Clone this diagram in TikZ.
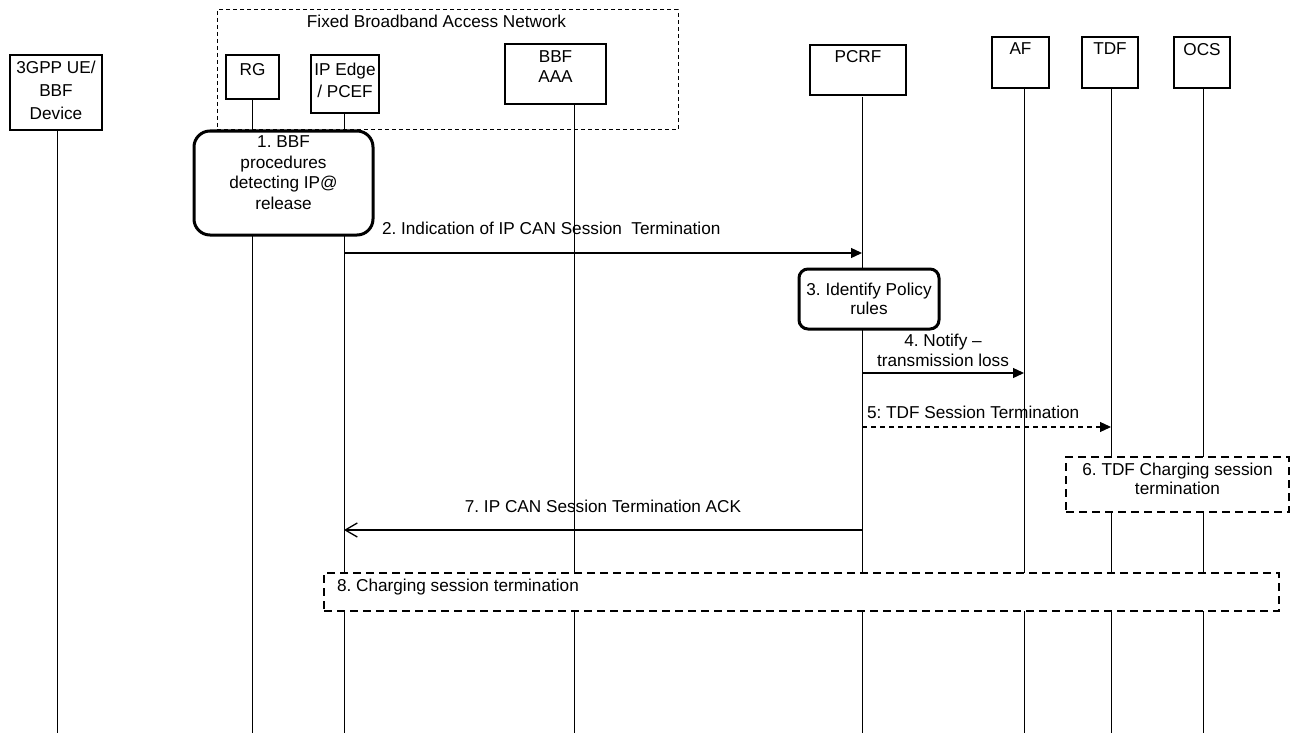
\documentclass[tikz,border=0pt]{standalone}
\usepackage{fontspec}
\setmainfont{Liberation Sans}
\usetikzlibrary{arrows.meta}
\frenchspacing
\begin{document}
\begin{tikzpicture}[x=1pt,y=-1pt,
 every node/.style={inner sep=0pt, outer sep=0pt, font=\fontsize{17.2pt}{20pt}\selectfont},
 hbox/.style={draw, line width=1.2pt, anchor=north west},
 lbl/.style={anchor=north, align=center},
 life/.style={line width=1pt},
 proc/.style={draw, line width=3pt, rounded corners=#1, anchor=north west},
 dbox/.style={draw, line width=2.5pt, dash pattern=on 8pt off 5pt, anchor=north west},
 msg/.style={line width=1.3pt, -{Triangle[length=11pt,width=10pt]}},
 ack/.style={line width=1.3pt, -{Straight Barb[length=12pt,width=14pt]}},
 ]
\useasboundingbox (0,0) rectangle (1292,733);
\coordinate (bot) at (0,733);

% access network frame
\node[draw, line width=1pt, dash pattern=on 4pt off 3pt, anchor=north west,
      minimum width=461pt, minimum height=120pt,
      label={[lbl, yshift=-5pt, xshift=-11pt]north:Fixed Broadband Access Network}] (fban) at (217,10) {};

% actors
\node[hbox, minimum width=92pt, minimum height=75pt,
      label={[lbl, yshift=-6pt, font=\fontsize{17.2pt}{23pt}\selectfont]north:3GPP UE/\\BBF\\Device}] (ue) at (10,55) {};
\node[hbox, minimum width=53pt, minimum height=44pt,
      label={[lbl, yshift=-8pt]north:RG}] (rg) at (226,55) {};
\node[hbox, minimum width=68pt, minimum height=58pt,
      label={[lbl, yshift=-8pt, font=\fontsize{17.2pt}{22pt}\selectfont]north:IP Edge\\/ PCEF}] (ie) at (311,55) {};
\node[hbox, minimum width=101pt, minimum height=60pt,
      label={[lbl, yshift=-7pt]north:BBF\\AAA}] (aaa) at (505,44) {};
\node[hbox, minimum width=96pt, minimum height=50pt,
      label={[lbl, yshift=-5pt]north:PCRF}] (pc) at (810,45) {};
\node[hbox, minimum width=57pt, minimum height=51pt,
      label={[lbl, yshift=-6pt]north:AF}] (af) at (992,37) {};
\node[hbox, minimum width=56pt, minimum height=51pt,
      label={[lbl, yshift=-6pt]north:TDF}] (tdf) at (1082,37) {};
\node[hbox, minimum width=56pt, minimum height=51pt,
      label={[lbl, yshift=-6pt]north:OCS}] (ocs) at (1174,37) {};

% lifeline tops
\coordinate (lue) at ([xshift=1pt]ue.south);
\coordinate (lrg) at (rg.south);
\coordinate (lie) at ([xshift=-1pt]ie.south);
\coordinate (laaa) at ([xshift=18.5pt]aaa.south);
\coordinate (lpc) at ([xshift=4pt,yshift=-2pt]pc.south);
\coordinate (laf) at ([xshift=3.5pt]af.south);
\coordinate (ltdf) at ([xshift=1pt]tdf.south);
\coordinate (locs) at ([xshift=1pt]ocs.south);

% process boxes
\node[proc=16pt, minimum width=179pt, minimum height=104pt,
      label={[lbl, yshift=-5pt, font=\fontsize{17.2pt}{20.5pt}\selectfont]north:1. BBF\\procedures\\detecting IP@\\release}] (b1) at (194,131) {};
\node[proc=9pt, minimum width=140pt, minimum height=60pt, align=center,
      font=\fontsize{17.2pt}{18.5pt}\selectfont] (b3) at (799,269) {3. Identify Policy\\rules};
\node[dbox, minimum width=223pt, minimum height=55pt,
      label={[lbl, yshift=-6pt, font=\fontsize{17.2pt}{19pt}\selectfont]north:6. TDF Charging session\\termination}] (b6) at (1066,457) {};
\node[dbox, minimum width=955pt, minimum height=38pt,
      label={[anchor=west, xshift=13pt, yshift=5pt]west:8. Charging session termination}] (b8) at (324,573) {};

% lifelines
\draw[life] (lue) -- (lue |- bot);
\draw[life] (lrg) -- (lrg |- b1.north);
\draw[life] (lrg |- b1.south) -- (lrg |- bot);
\draw[life] (lie) -- (lie |- b1.north);
\draw[life] (lie |- b1.south) -- (lie |- b8.north);
\draw[life] (lie |- b8.south) -- (lie |- bot);
\draw[life] (laaa) -- (laaa |- b8.north);
\draw[life] (laaa |- b8.south) -- (laaa |- bot);
\draw[life] (lpc) -- (lpc |- b3.north);
\draw[life] (lpc |- b3.south) -- (lpc |- b8.north);
\draw[life] (lpc |- b8.south) -- (lpc |- bot);
\draw[life] (laf) -- (laf |- b8.north);
\draw[life] (laf |- b8.south) -- (laf |- bot);
\draw[life] (ltdf) -- (ltdf |- b6.north);
\draw[life] (ltdf |- b6.south) -- (ltdf |- b8.north);
\draw[life] (ltdf |- b8.south) -- (ltdf |- bot);
\draw[life] (locs) -- (locs |- b6.north);
\draw[life] (locs |- b6.south) -- (locs |- b8.north);
\draw[life] (locs |- b8.south) -- (locs |- bot);

% messages
\coordinate (m2) at (0,253);
\coordinate (m4) at (0,373);
\coordinate (m5) at (0,427);
\coordinate (m7) at (0,530);
\draw[msg] (lie |- m2) -- (lpc |- m2);
\node[anchor=west] (t2) at (382,228) {2. Indication of IP CAN Session\ \ Termination};
\draw[msg] (lpc |- m4) -- (laf |- m4);
\node[align=center] (t4) at (943,350) {4. Notify –\\transmission loss};
\draw[msg, line width=1.2pt, dash pattern=on 5pt off 4pt] (lpc |- m5) -- (ltdf |- m5);
\node[anchor=west] (t5) at (867,412) {5: TDF Session Termination};
\draw[ack] (lpc |- m7) -- (lie |- m7);
\node (t7) at (603,506) {7. IP CAN Session Termination ACK};
\end{tikzpicture}
\end{document}
